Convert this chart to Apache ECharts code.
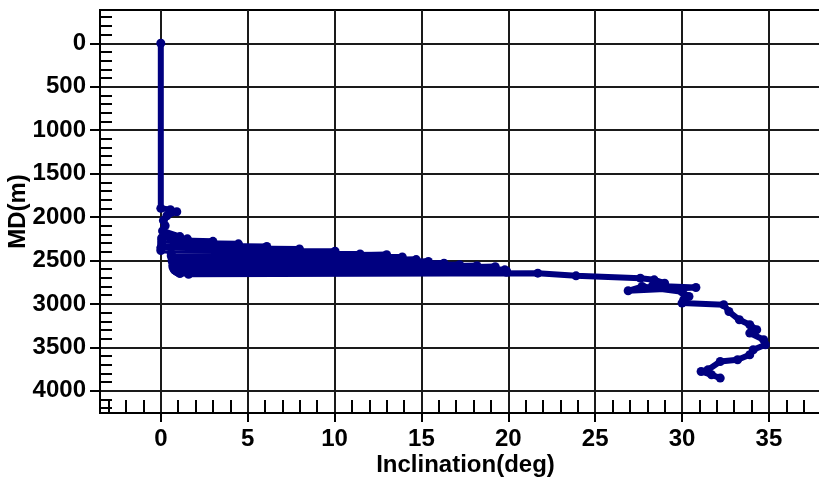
<!DOCTYPE html>
<html>
<head>
<meta charset="utf-8">
<script src="https://cdn.jsdelivr.net/npm/echarts@6/dist/echarts.min.js"></script>
<style>
  html, body { margin: 0; padding: 0; background: #fff; }
  #chart { width: 819px; height: 485px; }
</style>
</head>
<body>
<div id="chart"></div>
<script>
// Survey stations: inclination (deg) against measured depth (m)
const inclinationDeg = [
  0.0, 0.0, 0.55, 0.92, 0.35, 0.15, 0.25, 0.1,
  1.1, 0.05, 1.53, 0.05, 3.0, 0.05, 4.47, 0.05, 6.1, 0.0, 7.98, 0.0, 10.03,
  0.6, 11.47, 0.6, 13.0, 0.65, 13.9, 0.65, 14.7, 0.7, 15.4, 0.7, 16.3, 0.7, 17.2,
  0.75, 18.2, 0.8, 19.25, 0.9, 19.8, 1.0, 19.9, 1.1, 19.9, 1.6,
  21.7, 23.9, 27.6, 28.4, 29.0, 28.3, 30.8, 26.9, 27.7, 30.0, 30.4, 30.1, 30.0,
  32.4, 32.7, 33.3, 33.9, 34.3, 33.9, 34.7, 34.8, 34.1, 33.9, 33.2, 32.2,
  31.5, 31.1, 31.7, 32.2
];
const mdMeters = [
  0, 1900, 1915, 1940, 1985, 2040, 2100, 2160,
  2225, 2240, 2251, 2265, 2280, 2295, 2309, 2325, 2338, 2355, 2368, 2385, 2393,
  2420, 2426, 2445, 2435, 2475, 2460, 2505, 2490, 2530, 2512, 2555, 2532, 2575, 2550,
  2595, 2560, 2612, 2572, 2625, 2608, 2638, 2622, 2650, 2636, 2660,
  2646, 2677, 2704, 2723, 2761, 2790, 2811, 2849, 2800, 2860, 2915, 2953, 2991,
  3010, 3088, 3183, 3240, 3298, 3336, 3413, 3471, 3528, 3585, 3643, 3663,
  3758, 3778, 3816, 3854
];

// Axis ticks
const mdMajorTicks = [0, 500, 1000, 1500, 2000, 2500, 3000, 3500, 4000];
const mdMinorTicks = [-300, -200, -100, 100, 200, 300, 400, 600, 700, 800, 900,
  1100, 1200, 1300, 1400, 1600, 1700, 1800, 1900, 2100, 2200, 2300, 2400,
  2600, 2700, 2800, 2900, 3100, 3200, 3300, 3400, 3600, 3700, 3800, 3900,
  4100, 4200];
const incMajorTicks = [0, 5, 10, 15, 20, 25, 30, 35];
const incMinorTicks = [-3, -2, -1, 1, 2, 3, 4, 6, 7, 8, 9, 11, 12, 13, 14,
  16, 17, 18, 19, 21, 22, 23, 24, 26, 27, 28, 29, 31, 32, 33, 34, 36, 37];

const mdRange = [-383, 4256];
const incRange = [-3.5, 38];

const points = inclinationDeg.map((v, i) => [v, mdMeters[i]]);

const font = 'Liberation Sans, Arial, sans-serif';
const ink = '#000';
const plain = v => String(v);

const chart = echarts.init(document.getElementById('chart'), null, { renderer: 'canvas' });
chart.setOption({
  animation: false,
  backgroundColor: '#fff',
  grid: {
    left: 100, top: 10, width: 721, height: 403,
    containLabel: false, outerBoundsMode: 'none',
    show: true, borderColor: ink, borderWidth: 2, backgroundColor: 'transparent'
  },
  xAxis: [
    {
      type: 'value', min: incRange[0], max: incRange[1], position: 'bottom',
      name: 'Inclination(deg)', nameLocation: 'middle', nameGap: 40, nameMoveOverlap: false,
      nameTextStyle: { fontFamily: font, fontWeight: 'bold', fontSize: 24, color: ink, padding: [0, 0, 0, 10] },
      axisLine: { show: true, onZero: false, lineStyle: { color: ink, width: 2 } },
      axisTick: { show: true, customValues: incMajorTicks, inside: false, length: 9, lineStyle: { color: ink, width: 2 } },
      axisLabel: { show: true, customValues: incMajorTicks, formatter: plain, margin: 14, fontFamily: font, fontWeight: 'bold', fontSize: 24, color: ink },
      splitLine: { show: true, lineStyle: { color: '#1a1a1a', width: 2 } }
    },
    {
      type: 'value', min: incRange[0], max: incRange[1], position: 'bottom',
      axisLine: { show: false, onZero: false },
      axisTick: { show: true, customValues: incMinorTicks, inside: true, length: 13, lineStyle: { color: ink, width: 2 } },
      axisLabel: { show: false },
      splitLine: { show: false }
    }
  ],
  yAxis: [
    {
      type: 'value', min: mdRange[0], max: mdRange[1], inverse: true, position: 'left',
      name: 'MD(m)', nameLocation: 'middle', nameGap: 70, nameRotate: 90, nameMoveOverlap: false,
      nameTextStyle: { fontFamily: font, fontWeight: 'bold', fontSize: 24, color: ink },
      axisLine: { show: true, onZero: false, lineStyle: { color: ink, width: 2 } },
      axisTick: { show: true, customValues: mdMajorTicks, inside: false, length: 10, lineStyle: { color: ink, width: 2 } },
      axisLabel: { show: true, customValues: mdMajorTicks, formatter: plain, margin: 14, fontFamily: font, fontWeight: 'bold', fontSize: 24, color: ink },
      splitLine: { show: true, lineStyle: { color: '#1a1a1a', width: 2 } }
    },
    {
      type: 'value', min: mdRange[0], max: mdRange[1], inverse: true, position: 'left',
      axisLine: { show: false, onZero: false },
      axisTick: { show: true, customValues: mdMinorTicks, inside: true, length: 12, lineStyle: { color: ink, width: 2 } },
      axisLabel: { show: false },
      splitLine: { show: false }
    }
  ],
  series: [
    {
      type: 'line',
      xAxisIndex: 0, yAxisIndex: 0,
      data: points,
      symbol: 'circle', symbolSize: 9, showAllSymbol: true,
      lineStyle: { color: '#000080', width: 6 },
      itemStyle: { color: '#000080' },
      z: 5
    }
  ]
});
</script>
</body>
</html>
